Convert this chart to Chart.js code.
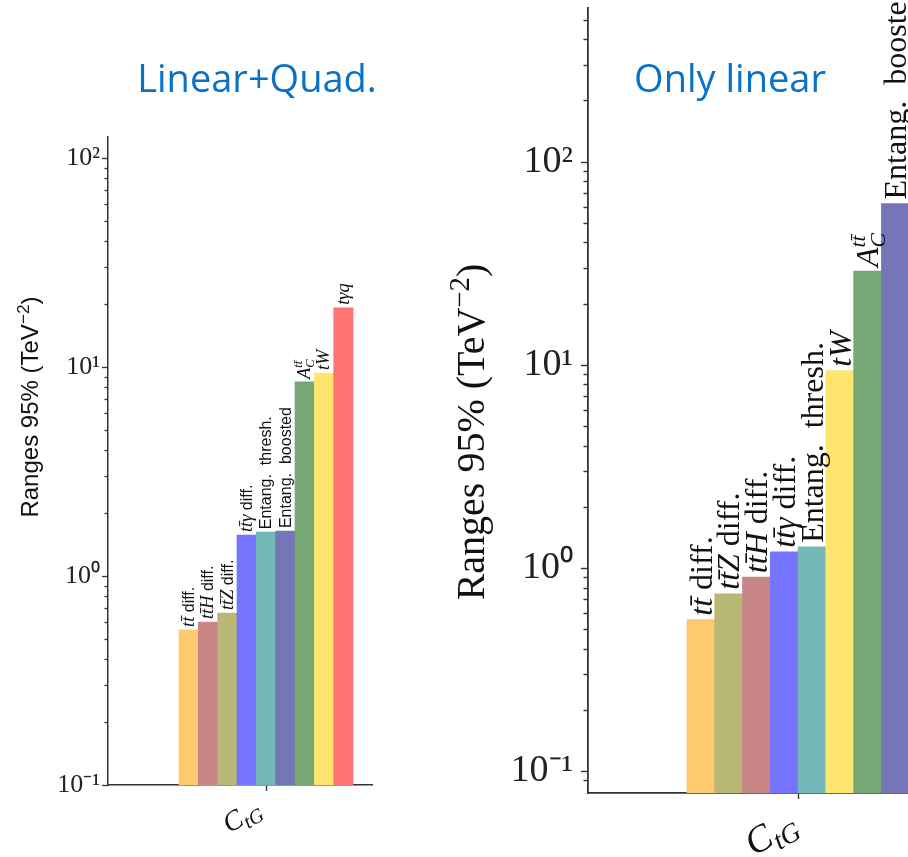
<!DOCTYPE html>
<html><head><meta charset="utf-8">
<script src="https://cdn.jsdelivr.net/npm/chart.js@4/dist/chart.umd.min.js"></script>
<style>
html,body{margin:0;padding:0;width:908px;height:857px;overflow:hidden;background:#fff}
body{position:relative}
.cw{position:absolute;top:0}
.ttl{position:absolute;font-family:'Open Sans',sans-serif;font-size:38px;color:#0A72C6;line-height:1;white-space:nowrap;transform:translateX(-50%)}
</style></head><body>
<div class="cw" style="left:0"><canvas id="c1" width="440" height="857"></canvas></div>
<div class="cw" style="left:440px"><canvas id="c2" width="560" height="857"></canvas></div>
<div class="ttl" style="left:257px;top:58px">Linear+Quad.</div>
<div class="ttl" style="left:730px;top:58px">Only linear</div>
<script>
// ---- data ----
const leftCategories = ['i:tt\u0304|n: diff.', 'i:tt\u0304H|n: diff.', 'i:tt\u0304Z|n: diff.', 'i:tt\u0304\u03b3|n: diff.', 'n:Entang.  thresh.', 'n:Entang.  boosted', 'i:A|S:C,tt\u0304', 'i:tW', 'i:t\u03b3q'];
const leftValues = [0.552, 0.602, 0.665, 1.57, 1.62, 1.64, 8.48, 9.36, 19.2];
const leftColors = ['#FFC96E', '#C98686', '#B9B776', '#7575FF', '#75B8B8', '#7575B8', '#75A875', '#FFE570', '#FF7373'];

const rightCategories = ['i:tt\u0304|n: diff.', 'i:tt\u0304Z|n: diff.', 'i:tt\u0304H|n: diff.', 'i:tt\u0304\u03b3|n: diff.', 'n:Entang.  thresh.', 'i:tW', 'i:A|S:C,tt\u0304', 'n:Entang.  boosted'];
const rightValues = [0.556, 0.746, 0.90, 1.20, 1.27, 9.35, 28.9, 62.2];
const rightColors = ['#FFC96E', '#B9B776', '#C98686', '#7575FF', '#75B8B8', '#FFE570', '#75A875', '#7575B8'];

const yTickLabels = {'-1': '10\u207b\u00b9', '0': '10\u2070', '1': '10\u00b9', '2': '10\u00b2'};
const xTickLabel = 'i:C|D:tG';
const yAxisTitle = 'n:Ranges 95% (TeV|P:\u22122|n:)';

// ---- rich text helper ----
function drawRich(ctx, spec, x, y, o, dry) {
  let cx = x;
  const ms = o.size * (o.mathScale || 1);
  for (const s of spec.split('|')) {
    const k = s[0], t = s.slice(2);
    if (k === 'n') {
      ctx.font = o.size + 'px ' + o.text;
      if (!dry) ctx.fillText(t, cx, y);
      cx += ctx.measureText(t).width;
    } else if (k === 'i') {
      ctx.font = 'italic ' + ms + 'px ' + o.math;
      if (!dry) ctx.fillText(t, cx, y);
      cx += ctx.measureText(t).width;
    } else if (k === 'P') {
      const sz = o.size * 0.72;
      ctx.font = sz + 'px ' + o.text;
      if (!dry) ctx.fillText(t, cx, y - o.size * 0.38);
      cx += ctx.measureText(t).width;
    } else if (k === 'D') {
      const sz = ms * 0.72;
      ctx.font = 'italic ' + sz + 'px ' + o.math;
      if (!dry) ctx.fillText(t, cx, y + ms * 0.2);
      cx += ctx.measureText(t).width;
    } else if (k === 'S') {
      const [sub, sup] = t.split(',');
      const sz = ms * 0.68;
      ctx.font = 'italic ' + sz + 'px ' + o.math;
      if (!dry) { ctx.fillText(sup, cx, y - ms * 0.42); ctx.fillText(sub, cx, y + ms * 0.2); }
      cx += Math.max(ctx.measureText(sub).width, ctx.measureText(sup).width);
    }
  }
  return cx - x;
}

const decoPlugin = {
  id: 'deco',
  afterDraw(chart) {
    const c = chart.options.plugins.deco, ctx = chart.ctx;
    const ys = chart.scales.y, xs = chart.scales.x;
    ctx.save();
    // y ticks (major/minor)
    ctx.strokeStyle = '#333'; ctx.lineWidth = c.tickW;
    for (const t of ys.ticks) {
      const v = t.value;
      if (v < ys.min * 0.999 || v > ys.max * 1.001) continue;
      const e = Math.floor(Math.log10(v) + 1e-9), m = v / Math.pow(10, e);
      if (Math.abs(m - Math.round(m)) > 1e-6) continue;
      const py = Math.round(ys.getPixelForValue(v)) + 0.5;
      const len = Math.round(m) === 1 ? c.major : c.minor;
      ctx.beginPath(); ctx.moveTo(ys.right - len, py); ctx.lineTo(ys.right, py); ctx.stroke();
    }
    ctx.fillStyle = '#111';
    // bar labels
    const meta = chart.getDatasetMeta(0);
    const cats = chart.data.datasets[0].cats;
    ctx.textBaseline = 'alphabetic'; ctx.textAlign = 'left';
    meta.data.forEach((el, i) => {
      ctx.save();
      ctx.translate(el.x, el.y - c.gap);
      ctx.rotate(-Math.PI / 2);
      drawRich(ctx, cats[i], 0, c.lab.size * 0.34, c.lab);
      ctx.restore();
    });
    // x tick label
    const tx = xs.getPixelForValue(xs.ticks[0].value);
    ctx.save();
    ctx.translate(tx + c.xl.dx, xs.top + c.xl.dy);
    ctx.rotate(-Math.PI / 6);
    const w = drawRich(ctx, xTickLabel, 0, 0, c.xl, true);
    drawRich(ctx, xTickLabel, -w, c.xl.size * 0.7, c.xl);
    ctx.restore();
    // y title
    ctx.save();
    ctx.translate(c.yt.x, c.yt.y);
    ctx.rotate(-Math.PI / 2);
    const wt = drawRich(ctx, yAxisTitle, 0, 0, c.yt, true);
    drawRich(ctx, yAxisTitle, -wt / 2, c.yt.size * 0.35, c.yt);
    ctx.restore();
    ctx.restore();
  }
};

function makeChart(id, cats, vals, cols, o) {
  return new Chart(document.getElementById(id), {
    type: 'bar',
    data: {
      datasets: [{
        data: vals.map((v, i) => ({x: i, y: v})),
        cats: cats,
        backgroundColor: cols,
        borderWidth: 0,
        barPercentage: 1, categoryPercentage: 1
      }]
    },
    options: {
      responsive: false, animation: false,
      layout: {padding: o.pad},
      plugins: {legend: {display: false}, tooltip: {enabled: false}, deco: o.deco},
      scales: {
        x: {
          type: 'linear', min: o.xmin, max: o.xmax, offset: false, bounds: 'data',
          afterFit: s => { s.height = o.xh; s.paddingLeft = 0; s.paddingRight = 0; },
          afterBuildTicks: s => { s.ticks = [{value: (vals.length - 1) / 2}]; },
          grid: {drawOnChartArea: false, offset: false, color: '#333', tickLength: 6, tickWidth: o.deco.tickW},
          border: {color: '#333', width: o.deco.axisW},
          ticks: {callback: () => '', autoSkip: false}
        },
        y: {
          type: 'logarithmic', min: o.ymin, max: o.ymax,
          afterFit: s => { s.width = o.yw; s.paddingTop = 0; s.paddingBottom = 0; },
          grid: {drawOnChartArea: false, drawTicks: false},
          border: {color: '#333', width: o.deco.axisW},
          ticks: {
            autoSkip: false, padding: o.tpad, color: '#222',
            font: {family: "'Liberation Serif', serif", size: o.tsize},
            callback: v => {
              const l = Math.log10(v), r = Math.round(l);
              return Math.abs(l - r) < 1e-9 && yTickLabels[String(r)] ? yTickLabels[String(r)] : '';
            }
          }
        }
      }
    },
    plugins: [decoPlugin]
  });
}

makeChart('c1', leftCategories, leftValues, leftColors, {
  pad: {left: 0, top: 137, right: 68, bottom: 0},
  xmin: -4.17, xmax: 9.48, xh: 72, yw: 108,
  ymin: 0.1, ymax: 126, tpad: 8, tsize: 26,
  deco: {
    tickW: 1.3, axisW: 1.5, major: 6, minor: 3.5, gap: 3,
    lab: {size: 16, mathScale: 1.15, text: "'Liberation Sans', sans-serif", math: "'Liberation Serif', serif"},
    xl: {size: 28, dx: -13, dy: 12, text: "'Liberation Serif', serif", math: "'Liberation Serif', serif"},
    yt: {x: 30, y: 407, size: 24, text: "'Liberation Sans', sans-serif", math: "'Liberation Serif', serif"}
  }
});

makeChart('c2', rightCategories, rightValues, rightColors, {
  pad: {left: 0, top: 8, right: 63, bottom: 0},
  xmin: -4.06, xmax: 8.5, xh: 64, yw: 148,
  ymin: 0.078, ymax: 570, tpad: 15, tsize: 38,
  deco: {
    tickW: 1.4, axisW: 1.8, major: 7, minor: 4.5, gap: 4,
    lab: {size: 32, text: "'Liberation Serif', serif", math: "'Liberation Serif', serif"},
    xl: {size: 38, dx: -12, dy: 14, text: "'Liberation Serif', serif", math: "'Liberation Serif', serif"},
    yt: {x: 30, y: 432, size: 40, text: "'Liberation Serif', serif", math: "'Liberation Serif', serif"}
  }
});
</script>
</body></html>
